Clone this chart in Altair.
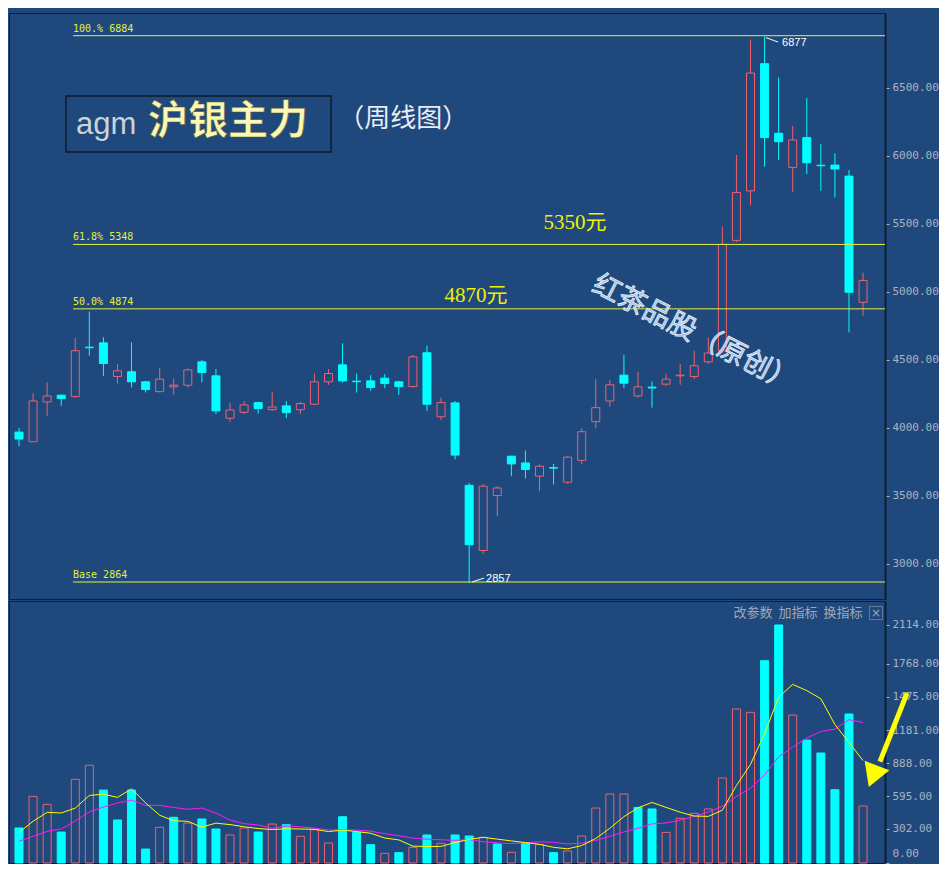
import altair as alt
import pandas as pd

# ---------------- data (weekly candles) ----------------
week = list(range(61))
open_ = [3967, 3896, 4189, 4239, 4228, 4592, 4624, 4376, 4411, 4337,
         4265, 4300, 4312, 4484, 4381, 4069, 4113, 4184, 4132, 4160,
         4132, 4172, 4337, 4462, 4342, 4344, 4364, 4337, 4302, 4551,
         4080, 4182, 3576, 3096, 3500, 3790, 3740, 3643, 3706, 3598,
         3759, 4044, 4196, 4386, 4233, 4298, 4320, 4381, 4376, 4484,
         4566, 5378, 5742, 6678, 6166, 5915, 6134, 5931, 5932, 5851,
         4922]
high = [3997, 4253, 4332, 4241, 4660, 4854, 4665, 4468, 4627, 4344,
        4438, 4361, 4435, 4497, 4431, 4184, 4196, 4190, 4265, 4196,
        4191, 4398, 4431, 4620, 4398, 4386, 4394, 4344, 4536, 4603,
        4221, 4196, 3593, 3586, 3569, 3790, 3832, 3729, 3733, 3790,
        3995, 4357, 4350, 4536, 4413, 4339, 4398, 4468, 4566, 4664,
        5481, 6006, 6855, 6877, 6577, 6220, 6425, 6087, 6018, 5895,
        5140]
low = [3864, 3894, 4086, 4160, 4220, 4529, 4381, 4324, 4295, 4258,
       4258, 4241, 4295, 4332, 4100, 4044, 4100, 4103, 4123, 4069,
       4100, 4170, 4315, 4332, 4258, 4270, 4290, 4241, 4295, 4123,
       4054, 3766, 2857, 3072, 3347, 3643, 3626, 3532, 3581, 3589,
       3733, 3995, 4152, 4290, 4221, 4147, 4307, 4315, 4357, 4468,
       4551, 5366, 5637, 5920, 5969, 5735, 5866, 5742, 5693, 4701,
       4824]
close = [3916, 4196, 4233, 4214, 4566, 4588, 4472, 4418, 4337, 4280,
         4357, 4312, 4425, 4405, 4123, 4130, 4167, 4140, 4152, 4110,
         4177, 4337, 4398, 4344, 4338, 4295, 4324, 4302, 4521, 4172,
         4184, 3798, 3138, 3569, 3556, 3733, 3692, 3716, 3702, 3783,
         3970, 4147, 4315, 4327, 4300, 4292, 4357, 4386, 4455, 4549,
         5348, 5730, 6609, 6134, 6104, 6117, 5949, 5927, 5903, 4996,
         5083]
volume = [311, 592, 521, 275, 743, 868, 648, 382, 648, 124,
          317, 406, 355, 391, 302, 249, 311, 275, 346, 340,
          237, 296, 178, 411, 272, 163, 86, 92, 139, 249,
          175, 249, 240, 228, 169, 95, 175, 163, 92, 107,
          240, 488, 613, 613, 494, 480, 272, 397, 441, 480,
          755, 1368, 1338, 1797, 2114, 1314, 1092, 977, 651, 1323,
          506]
vol_ma5 = [272, 370, 450, 444, 488, 600, 611, 583, 658, 534,
           424, 375, 370, 319, 354, 341, 322, 306, 297, 304,
           302, 299, 279, 292, 279, 264, 222, 205, 150, 146,
           148, 181, 210, 228, 212, 196, 181, 166, 139, 126,
           155, 218, 308, 412, 490, 538, 494, 451, 417, 414,
           469, 688, 876, 1148, 1474, 1586, 1531, 1459, 1230, 1071,
           910]
vol_ma10 = [193, 237, 281, 302, 373, 453, 497, 533, 559, 511,
            512, 493, 477, 488, 444, 382, 349, 338, 308, 329,
            321, 310, 293, 295, 292, 283, 260, 242, 221, 212,
            206, 201, 208, 189, 179, 172, 181, 188, 184, 169,
            176, 200, 237, 276, 308, 347, 356, 380, 415, 452,
            503, 591, 664, 782, 944, 1028, 1110, 1168, 1189, 1273,
            1248]

fib_levels = [6884, 5348, 4874, 2864]
fib_labels = ["100.% 6884", "61.8% 5348", "50.0% 4874", "Base  2864"]
price_ticks = [3000, 3500, 4000, 4500, 5000, 5500, 6000, 6500]
vol_ticks = [0, 302, 595, 888, 1181, 1475, 1768, 2114]

# ---------------- style ----------------
BG = "#1F497D"
RED = "#f0606a"
CYAN = "#00ffff"
FIB = "#e4f03a"
AXC = "#aab3c0"
LINE = "#0d1f36"
CJK = "Noto Sans CJK SC"

XMIN, XMAX = -0.711, 61.56
PMIN, PMAX = 2739, 7051
VMAX = 2327
W, H1, H2 = 876, 586, 262

df = pd.DataFrame({"i": week, "o": open_, "h": high, "l": low, "c": close,
                   "v": volume, "ma5": vol_ma5, "ma10": vol_ma10})
df["dir"] = ["up" if c >= o else "down" for o, c in zip(open_, close)]
vdir = []
for k in range(len(close)):
    ref = close[k - 1] if k > 0 else open_[k]
    vdir.append("up" if close[k] > ref else "down")
df["vdir"] = vdir

xsc = alt.Scale(domain=[XMIN, XMAX], nice=False, zero=False, padding=0)
psc = alt.Scale(domain=[PMIN, PMAX], nice=False, zero=False, padding=0)
vsc = alt.Scale(domain=[0, VMAX], nice=False, zero=False, padding=0)

axis_common = dict(orient="right", format=".2f", grid=False, tickSize=4,
                   tickColor=AXC, domainColor=LINE, domainWidth=2,
                   labelColor=AXC, labelFont="DejaVu Sans Mono", labelFontSize=11,
                   labelPadding=3, title=None)
pax = alt.Axis(values=price_ticks, **axis_common)
vax = alt.Axis(values=vol_ticks, labelFlush=True, labelFlushOffset=-5, **axis_common)


def X(f="i"):
    return alt.X(f"{f}:Q", scale=xsc, axis=None)


def P(f):
    return alt.Y(f"{f}:Q", scale=psc, axis=pax, title=None)


def V(f):
    return alt.Y(f"{f}:Q", scale=vsc, axis=vax, title=None)


dircol = alt.Color("dir:N", scale=alt.Scale(domain=["up", "down"], range=[RED, CYAN]), legend=None)

base = alt.Chart(df)
wick = base.mark_rule(strokeWidth=1).encode(x=X(), y=P("l"), y2="h:Q", color=dircol)
body_up = base.transform_filter("datum.dir == 'up'").mark_bar(
    size=8, fill=BG, stroke=RED, strokeWidth=1).encode(x=X(), y=P("o"), y2="c:Q")
body_dn = base.transform_filter("datum.dir == 'down'").mark_bar(
    size=8, fill=CYAN, stroke=CYAN, strokeWidth=1).encode(x=X(), y=P("o"), y2="c:Q")

fib_df = pd.DataFrame({"y": fib_levels, "t": fib_labels, "x": [3.84] * 4, "x1": [XMAX] * 4})
fib_rule = alt.Chart(fib_df).mark_rule(color=FIB, strokeWidth=1).encode(x=X("x"), x2="x1:Q", y=P("y"))
fib_txt = alt.Chart(fib_df).mark_text(align="left", baseline="bottom", dy=-2, fontSize=10,
                                      font="DejaVu Sans Mono", color=FIB).encode(
    x=X("x"), y=P("y"), text="t:N")


def ptext(x, y, t, **kw):
    d = pd.DataFrame({"x": [x], "y": [y], "t": [t]})
    return alt.Chart(d).mark_text(**kw).encode(x=X("x"), y=P("y"), text="t:N")


def vtext(x, y, t, **kw):
    d = pd.DataFrame({"x": [x], "y": [y], "t": [t]})
    return alt.Chart(d).mark_text(**kw).encode(x=X("x"), y=V("y"), text="t:N")


box = alt.Chart(pd.DataFrame({"x": [3.34], "x1": [22.18], "y": [6028], "y1": [6440]})).mark_rect(
    fillOpacity=0, stroke="#0b1a2c", strokeWidth=1.5).encode(x=X("x"), x2="x1:Q", y=P("y"), y2="y1:Q")

title_layers = [
    box,
    ptext(4.05, 6160, "agm", align="left", baseline="alphabetic", fontSize=31,
          font="Liberation Sans", color="#cdd2d9"),
    ptext(9.17, 6252, "沪银主力", align="left", baseline="middle", fontSize=40,
          font=CJK, fontWeight="bold", color="#fbf7b5", stroke="#5a5a30", strokeWidth=0.6),
    ptext(22.7, 6271, "（周线图）", align="left", baseline="middle", fontSize=26,
          font=CJK, color="#e6edf5"),
    ptext(39.52, 5506, "5350元", align="center", baseline="middle", fontSize=21,
          font="Liberation Serif, " + CJK, color="#f0f000"),
    ptext(32.49, 4968, "4870元", align="center", baseline="middle", fontSize=21,
          font="Liberation Serif, " + CJK, color="#f0f000"),
    ptext(47.98, 4689, "红茶品股（原创）", align="center", baseline="middle", fontSize=28,
          font=CJK, angle=27, color="#9fc1e6", stroke="#eef6ff", strokeWidth=0.7),
    ptext(54.24, 6830, "6877", align="left", baseline="middle", fontSize=11,
          font="Liberation Sans", color="#ffffff"),
    ptext(33.2, 2886, "2857", align="left", baseline="middle", fontSize=11,
          font="Liberation Sans", color="#ffffff"),
]

arr_df = pd.DataFrame({"x": [53.1, 32.2], "x1": [53.96, 33.06], "y": [6870, 2864], "y1": [6837, 2893]})
small_arrows = alt.Chart(arr_df).mark_rule(color="#ffffff", strokeWidth=1).encode(
    x=X("x"), x2="x1:Q", y=P("y"), y2="y1:Q")

main = alt.layer(wick, body_up, body_dn, fib_rule, fib_txt, small_arrows, *title_layers).properties(
    width=W, height=H1)

vbase = alt.Chart(df)
vbar_up = vbase.transform_filter("datum.vdir == 'up'").mark_bar(
    size=8, fill=BG, stroke=RED, strokeWidth=1).encode(x=X(), y=V("v"))
vbar_dn = vbase.transform_filter("datum.vdir == 'down'").mark_bar(
    size=8, fill=CYAN, stroke=CYAN, strokeWidth=1).encode(x=X(), y=V("v"))
ma5_line = vbase.mark_line(color="#ffff00", strokeWidth=1).encode(x=X(), y=V("ma5"))
ma10_line = vbase.mark_line(color="#ff1aff", strokeWidth=1).encode(x=X(), y=V("ma10"))

menu = [
    vtext(52.18, 2220, "改参数", align="center", baseline="middle", fontSize=13, font=CJK, color="#a0a8b4"),
    vtext(55.38, 2220, "加指标", align="center", baseline="middle", fontSize=13, font=CJK, color="#a0a8b4"),
    vtext(58.58, 2220, "换指标", align="center", baseline="middle", fontSize=13, font=CJK, color="#a0a8b4"),
    alt.Chart(pd.DataFrame({"x": [60.92], "y": [2220]})).mark_point(
        shape="square", size=170, filled=False, color="#8090a0", strokeWidth=1).encode(x=X("x"), y=V("y")),
    vtext(60.92, 2220, "×", align="center", baseline="middle", fontSize=12, font="DejaVu Sans", color="#a0a8b4"),
]

shaft = alt.Chart(pd.DataFrame({"x": [63.13], "x1": [61.2], "y": [1510], "y1": [900]})).mark_rule(
    color="#ffff00", strokeWidth=5, clip=False).encode(x=X("x"), x2="x1:Q", y=V("y"), y2="y1:Q")
head = alt.Chart(pd.DataFrame({"x": [60.7], "y": [770]})).mark_point(
    shape="triangle-up", size=700, filled=True, color="#ffff00", opacity=1, angle=201, clip=False).encode(
    x=X("x"), y=V("y"))

vol = alt.layer(vbar_up, vbar_dn, ma10_line, ma5_line, *menu, shaft, head).properties(width=W, height=H2)

chart = alt.vconcat(main, vol, spacing=0).properties(
    background=BG, padding={"left": 0, "top": 4, "right": 0, "bottom": 0}
).configure_view(stroke=LINE, strokeWidth=1)

chart.save("out.html", embed_options={"renderer": "svg", "actions": False})
